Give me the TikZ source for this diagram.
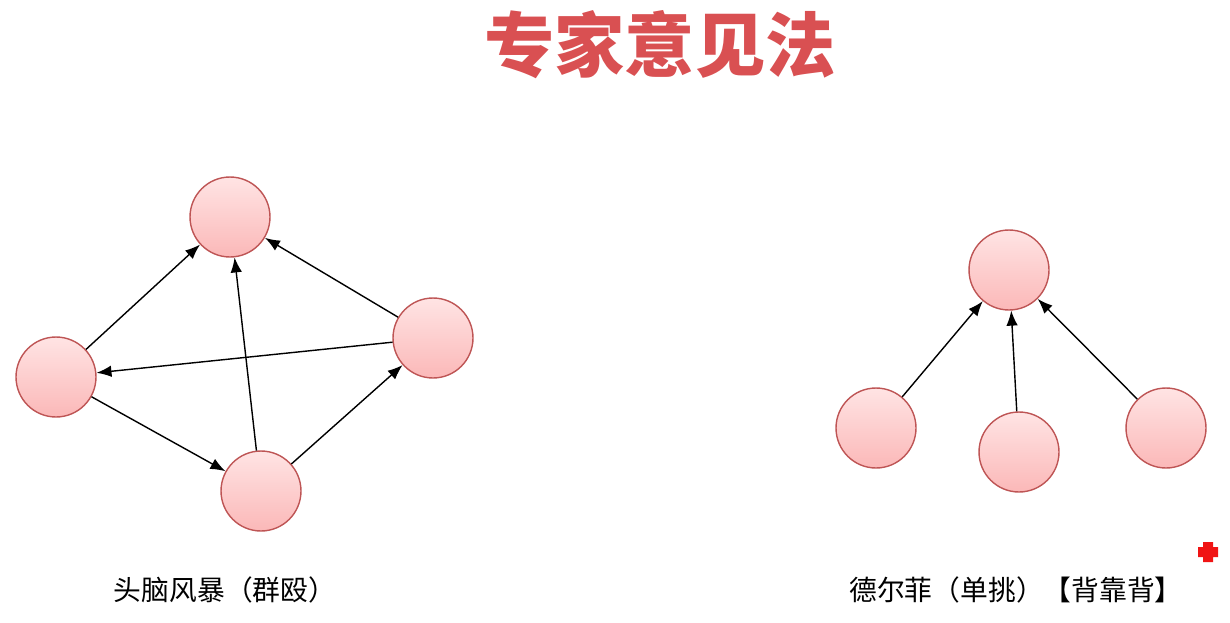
\documentclass[tikz,border=0pt]{standalone}
\usepackage{fontspec}
\newfontfamily\cjk{Noto Sans CJK SC}
\definecolor{titlered}{RGB}{217,80,82}
\definecolor{discfilltop}{RGB}{255,228,228}
\definecolor{discfillbot}{RGB}{251,184,184}
\definecolor{discline}{RGB}{190,85,85}
\definecolor{markred}{RGB}{240,20,20}
\usetikzlibrary{arrows.meta,positioning}

\begin{document}
\begin{tikzpicture}[x=0.02cm,y=-0.02cm,
    expert/.style={circle,draw=discline,line width=0.8pt,
                   top color=discfilltop,bottom color=discfillbot,
                   minimum size=1.6cm,inner sep=0pt},
    opinion/.style={-{Latex[length=3mm,width=2.3mm]},line width=0.8pt},
    caption/.style={font=\cjk\fontsize{15.8pt}{19pt}\selectfont}]
  \useasboundingbox (0,0) rectangle (1230,622);

  %% Title
  \node[font=\cjk\bfseries\fontsize{40pt}{46pt}\selectfont,text=titlered]
        (title) at (660,45) {专家意见法};

  %% Left: brainstorming
  \node[expert] (top)    at (230,217) {};
  \node[expert] (left)   at (56,377)  {};
  \node[expert] (right)  at (433,338) {};
  \node[expert] (bottom) at (261,491) {};
  \draw[opinion] (left)   -- (top);
  \draw[opinion] (bottom) -- (top);
  \draw[opinion] (right)  -- (top);
  \draw[opinion] (right)  -- (left);
  \draw[opinion] (left)   -- (bottom);
  \draw[opinion] (bottom) -- (right);
  \node[caption] (brain) at (225,590) {头脑风暴（群殴）};

  %% Right: Delphi
  \node[expert] (head) at (1009,270)  {};
  \node[expert] (d1)   at (876,428)   {};
  \node[expert] (d2)   at (1019,452)  {};
  \node[expert] (d3)   at (1166,428)  {};
  \foreach \d in {d1,d2,d3}
    \draw[opinion] (\d) -- (head);
  \node[caption] (delphi) at (1016,590) {德尔菲（单挑）【背靠背】};

  %% red mark
  \fill[markred] (1203,542) rectangle (1213,562)
                 (1198,547) rectangle (1218,557);
\end{tikzpicture}
\end{document}
